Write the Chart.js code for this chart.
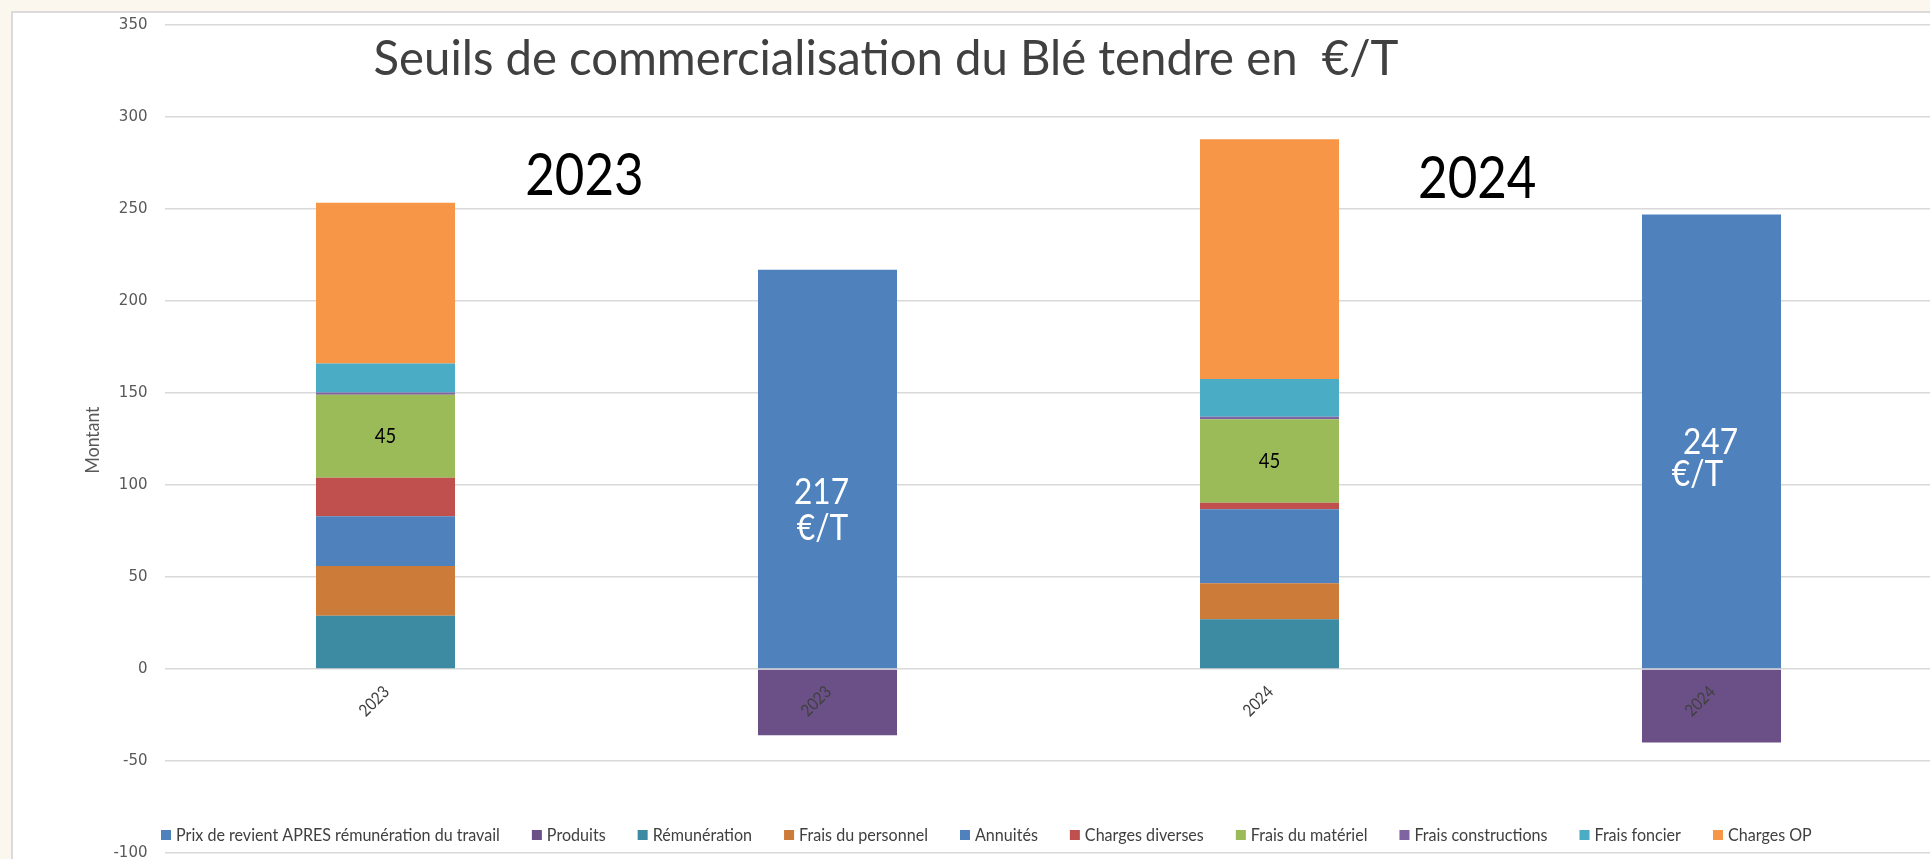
<!DOCTYPE html>
<html lang="fr">
<head>
<meta charset="utf-8">
<title>Seuils de commercialisation du Blé tendre</title>
<script src="https://cdn.jsdelivr.net/npm/chart.js@4.4.1/dist/chart.umd.min.js"></script>
<style>
  html, body { margin: 0; padding: 0; overflow: hidden; }
  body { width: 1930px; height: 859px; background: #fbf6ee; position: relative; }
  #frame { position: absolute; left: 11px; top: 11px; width: 1940px; height: 870px; background: #fff;
           border-left: 2px solid #dadada; border-top: 2px solid #dadada; }
  #chartBox { position: absolute; left: 0; top: 0; }
</style>
</head>
<body>
<div id="frame"></div>
<div id="chartBox"><canvas id="chart" width="1934" height="859"></canvas></div>
<script>
// categories and series (€/T)
const categories = ["2023", "2023", "2024", "2024"];
const prixRevient = [null, 217, null, 247];
const produits = [null, -36, null, -40];
const remuneration = [29, null, 27, null];
const fraisPersonnel = [27, null, 19.6, null];
const annuites = [27, null, 40.2, null];
const chargesDiverses = [21, null, 3.6, null];
const fraisMateriel = [45, null, 45.3, null];
const fraisConstructions = [1.3, null, 1.4, null];
const fraisFoncier = [15.7, null, 20.5, null];
const chargesOP = [87.4, null, 130.3, null];
const yTicks = [-100, -50, 0, 50, 100, 150, 200, 250, 300, 350];

const seriesNames = [
  "Prix de revient APRES rémunération du travail", "Produits", "Rémunération",
  "Frais du personnel", "Annuités", "Charges diverses", "Frais du matériel",
  "Frais constructions", "Frais foncier", "Charges OP"
];
const seriesValues = [
  prixRevient, produits, remuneration, fraisPersonnel, annuites,
  chargesDiverses, fraisMateriel, fraisConstructions, fraisFoncier, chargesOP
];
const seriesColors = [
  "#4f81bd", "#6a5087", "#3c8ba2", "#cc7b38", "#4f81bd",
  "#c0504d", "#9bbb59", "#8064a2", "#4bacc6", "#f79646"
];

const FONT = "Lato, 'Open Sans', sans-serif";
const SX = 0.88; // narrow the text a bit, closer to the original look

function drawText(ctx, s, x, y, size, color, align = "center", rot = 0, sx = SX) {
  ctx.save();
  ctx.translate(x, y);
  if (rot) ctx.rotate(rot);
  ctx.scale(sx, 1);
  ctx.font = `${size}px ${FONT}`;
  ctx.fillStyle = color;
  ctx.textAlign = align;
  ctx.textBaseline = "middle";
  ctx.fillText(s, 0, 0);
  ctx.restore();
}

// text offsets for the two "€/T" totals (pixels from bar middle)
const totalLabelOffsets = { 1: [[-6, 23], [-5, 59]], 3: [[-1, 1], [-14, 33]] };
const yearLabels = [{ text: "2023", at: 0.45, value: 268 }, { text: "2024", at: 2.47, value: 266 }];

const overlay = {
  id: "overlay",
  afterDraw(chart) {
    const ctx = chart.ctx;
    const xs = chart.scales.x, ys = chart.scales.y;
    const zero = ys.getPixelForValue(0);

    // title and big years
    drawText(ctx, "Seuils de commercialisation du Blé tendre en  €/T", 886, 60, 48, "#404040", "center", 0, 0.985);
    yearLabels.forEach((l) => drawText(ctx, l.text, xs.getPixelForValue(l.at), ys.getPixelForValue(l.value), 58, "#000"));

    // axis title
    drawText(ctx, "Montant", 93, 440, 20, "#595959", "center", -Math.PI / 2);

    // category labels, rotated, sitting on the zero line
    categories.forEach((c, i) => {
      drawText(ctx, c, xs.getPixelForValue(i) + 1, zero + 20, 17, "#404040", "right", -Math.PI / 4);
    });

    // value label inside "Frais du matériel"
    chart.getDatasetMeta(6).data.forEach((el, i) => {
      const v = fraisMateriel[i];
      if (v == null) return;
      drawText(ctx, String(Math.round(v)), el.x, (el.y + el.base) / 2, 21, "#000");
    });

    // totals inside "Prix de revient"
    chart.getDatasetMeta(0).data.forEach((el, i) => {
      const v = prixRevient[i];
      if (v == null) return;
      const mid = (el.y + el.base) / 2;
      const off = totalLabelOffsets[i];
      drawText(ctx, String(v), el.x + off[0][0], mid + off[0][1], 36, "#fff");
      drawText(ctx, "€/T", el.x + off[1][0], mid + off[1][1], 36, "#fff");
    });

    // legend inside the plot
    const lsx = 0.92;
    let x = 161;
    const ly = 835;
    ctx.save();
    seriesNames.forEach((name, i) => {
      ctx.fillStyle = seriesColors[i];
      ctx.fillRect(x, ly - 5, 10, 10);
      drawText(ctx, name, x + 15, ly, 17.5, "#404040", "left", 0, lsx);
      ctx.font = `17.5px ${FONT}`;
      x += 15 + ctx.measureText(name).width * lsx + 32;
    });
    ctx.restore();
  }
};

new Chart(document.getElementById("chart"), {
  type: "bar",
  data: {
    labels: categories,
    datasets: seriesNames.map((name, i) => ({
      label: name,
      data: seriesValues[i],
      backgroundColor: seriesColors[i],
      borderWidth: 0,
      categoryPercentage: 1,
      barPercentage: 0.3145,
    })),
  },
  options: {
    responsive: false,
    animation: false,
    layout: { padding: { left: 0, right: 1.5, top: 25, bottom: 6 } },
    plugins: { legend: { display: false }, tooltip: { enabled: false } },
    scales: {
      x: { stacked: true, display: false },
      y: {
        stacked: true,
        min: -100,
        max: 350,
        afterBuildTicks: (scale) => { scale.ticks = yTicks.map((v) => ({ value: v })); },
        afterFit: (scale) => { scale.width = 164.5; scale.paddingTop = 0; scale.paddingBottom = 0; },
        border: { display: false },
        grid: { color: "#d9d9d9", lineWidth: 1.5, drawTicks: false },
        ticks: { padding: 17, color: "#595959", font: { family: "'DejaVu Sans'", size: 15 } },
      },
    },
  },
  plugins: [overlay],
});
</script>
</body>
</html>
